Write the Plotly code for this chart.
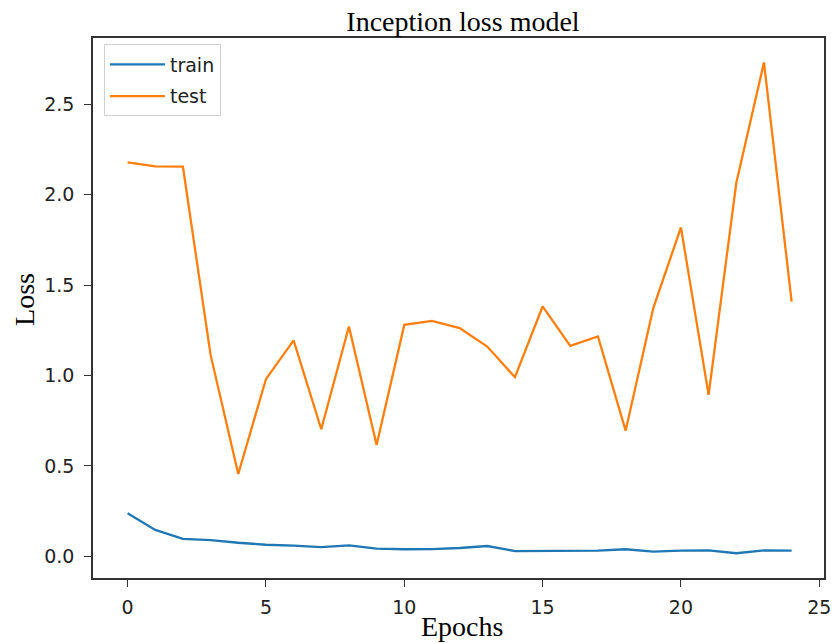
import plotly.graph_objects as go

epochs = list(range(25))
train_loss = [0.238, 0.146, 0.096, 0.090, 0.075, 0.064, 0.059, 0.051, 0.061, 0.042,
              0.039, 0.040, 0.046, 0.057, 0.029, 0.031, 0.029, 0.031, 0.039, 0.026,
              0.031, 0.033, 0.017, 0.033, 0.031]
test_loss = [2.179, 2.157, 2.155, 1.114, 0.455, 0.980, 1.194, 0.703, 1.271, 0.616,
             1.280, 1.302, 1.262, 1.160, 0.991, 1.382, 1.164, 1.216, 0.695, 1.373,
             1.819, 0.893, 2.065, 2.732, 1.409]
x_ticks = [0, 5, 10, 15, 20, 25]
y_ticks = [0.0, 0.5, 1.0, 1.5, 2.0, 2.5]
y_tick_labels = ["0.0", "0.5", "1.0", "1.5", "2.0", "2.5"]

fig = go.Figure()
fig.add_trace(go.Scatter(x=epochs, y=train_loss, mode="lines", name="train",
                         legendgroup="train",
                         line=dict(color="#1f77b4", width=2.3)))
fig.add_trace(go.Scatter(x=epochs, y=test_loss, mode="lines", name="test",
                         legendgroup="test",
                         line=dict(color="#ff7f0e", width=2.3)))

axis_common = dict(showline=True, mirror=True, linecolor="#333333", linewidth=1.5,
                   showgrid=False, zeroline=False, ticks="outside", ticklen=7,
                   tickwidth=1.3, tickcolor="#333333",
                   tickfont=dict(family="DejaVu Sans", size=19, color="#222222"))

fig.update_layout(
    width=840, height=643,
    margin=dict(l=93, r=9, t=38, b=65),
    paper_bgcolor="white", plot_bgcolor="white",
    showlegend=True,
    legend=dict(x=0.015, y=0.988, xanchor="left", yanchor="top",
                bgcolor="rgba(255,255,255,0.8)", bordercolor="#d0d0d0", borderwidth=1,
                font=dict(family="DejaVu Sans", size=19, color="#222222"),
                tracegroupgap=4, itemwidth=55),
    xaxis=dict(range=[-1.25, 25.17], tickvals=x_ticks, ticklabelstandoff=4, **axis_common),
    yaxis=dict(range=[-0.12, 2.867], tickvals=y_ticks, ticktext=y_tick_labels,
               ticklabelstandoff=6, **axis_common),
    title=dict(text="Inception loss model", x=463/840, xanchor="center",
               y=1 - 21/643, yanchor="middle", yref="container",
               font=dict(family="Liberation Serif", size=28, color="#000000")),
    annotations=[
        dict(text="Epochs", xref="paper", yref="paper", x=0.505, y=0,
             xanchor="center", yanchor="middle", yshift=-48, showarrow=False,
             font=dict(family="Liberation Serif", size=28, color="#000000")),
        dict(text="Loss", xref="paper", yref="paper", x=0, y=0.515,
             xanchor="center", yanchor="middle", xshift=-68, showarrow=False,
             textangle=-90,
             font=dict(family="Liberation Serif", size=28, color="#000000")),
    ],
)

fig.write_html("out.html")
